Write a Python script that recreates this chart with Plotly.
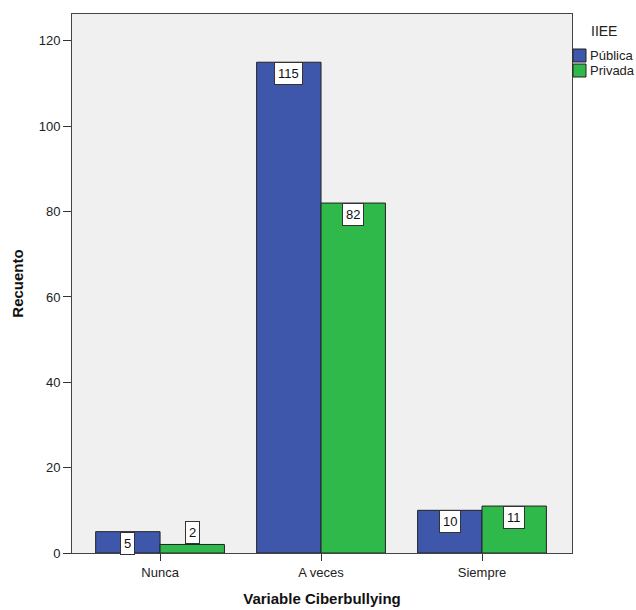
import plotly.graph_objects as go

categories = ["Nunca", "A veces", "Siempre"]
series_names = ["Pública", "Privada"]
publica = [5, 115, 10]
privada = [2, 82, 11]
legend_title = "IIEE"
y_ticks = [0, 20, 40, 60, 80, 100, 120]

colors = ["#3e57aa", "#2fb94b"]
FONT = "Liberation Sans, Arial, sans-serif"

L, R, T, B = 72, 64, 14, 57
W, H = 636, 610
PW, PH = W - L - R, H - T - B

fig = go.Figure()
for name, vals, col in zip(series_names, [publica, privada], colors):
    fig.add_trace(go.Bar(
        x=categories, y=vals, name=name,
        marker=dict(color=col, line=dict(color="#222222", width=1)),
        showlegend=False, hoverinfo="skip",
    ))

ymax = 126.3
px_per_unit = PH / ymax
annotations = []
for si, vals in enumerate([publica, privada]):
    off = -0.2 if si == 0 else 0.2
    for ci, v in enumerate(vals):
        inside = v * px_per_unit >= 20
        annotations.append(dict(
            x=ci + off, y=v, xref="x", yref="y", text=str(v), showarrow=False,
            yanchor="top" if inside else "bottom",
            font=dict(family=FONT, size=13, color="#111111"),
            bgcolor="white", bordercolor="#333333", borderwidth=1, borderpad=3,
        ))

def py(pix):
    return (H - B - pix) / PH

def px(pix):
    return (pix - L) / PW

annotations.append(dict(x=px(589), y=py(31), xref="paper", yref="paper", text=legend_title,
                        showarrow=False, xanchor="left", yanchor="middle",
                        font=dict(family=FONT, size=14, color="#222222")))
shapes = []
sw_tops = [49, 64]
for name, col, top in zip(series_names, colors, sw_tops):
    shapes.append(dict(type="rect", xref="paper", yref="paper",
                       x0=px(573), x1=px(586), y0=py(top + 13), y1=py(top),
                       fillcolor=col, line=dict(color="#222222", width=1)))
    annotations.append(dict(x=px(588), y=py(top + 6.5), xref="paper", yref="paper", text=name,
                            showarrow=False, xanchor="left", yanchor="middle",
                            font=dict(family=FONT, size=13, color="#222222")))

fig.update_layout(
    width=W, height=H,
    margin=dict(l=L, r=R, t=T, b=B, pad=0, autoexpand=False),
    paper_bgcolor="white", plot_bgcolor="#f0f0f0",
    barmode="group", bargap=0.2, bargroupgap=0,
    font=dict(family=FONT, size=13, color="#222222"),
    annotations=annotations, shapes=shapes,
    showlegend=False,
)
fig.update_xaxes(
    range=[-0.547, 2.559], showgrid=False, zeroline=False, automargin=False,
    showline=True, linecolor="#444444", linewidth=1, mirror=True,
    ticks="outside", ticklen=7, tickcolor="#333333",
    tickfont=dict(family=FONT, size=13, color="#222222"),
    title=dict(text="<b>Variable Ciberbullying</b>", font=dict(family=FONT, size=15, color="#111111"), standoff=14),
)
fig.update_yaxes(
    range=[0, ymax], tickvals=y_ticks, showgrid=False, zeroline=False, automargin=False,
    showline=True, linecolor="#444444", linewidth=1, mirror=True,
    ticks="outside", ticklen=8, tickcolor="#333333",
    tickfont=dict(family=FONT, size=13, color="#222222"),
    title=dict(text="<b>Recuento</b>", font=dict(family=FONT, size=15, color="#111111"), standoff=11),
)

fig.write_html("out.html", config={"displayModeBar": False},
               post_script="document.body.style.margin='0';document.body.style.overflow='hidden';")
